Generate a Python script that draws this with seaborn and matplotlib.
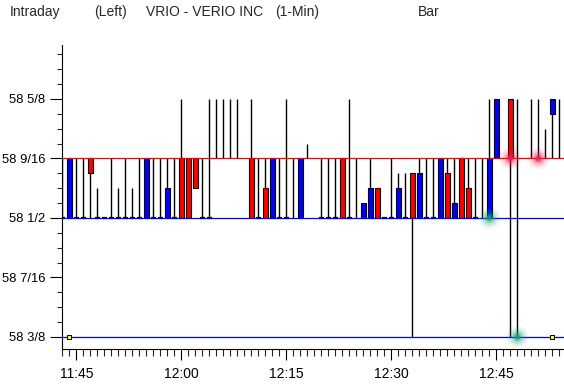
import matplotlib
matplotlib.use('Agg')
import matplotlib.pyplot as plt
from matplotlib.ticker import FixedLocator, MultipleLocator
import numpy as np
import pandas as pd
import seaborn as sns

# 1分钟K线, 价格单位 1/64 (价格 = 58 + v/64)
times = ['11:43', '11:44', '11:45', '11:46', '11:47', '11:48', '11:49', '11:50', '11:51', '11:52',
         '11:53', '11:54', '11:55', '11:56', '11:57', '11:58', '11:59', '12:00', '12:01', '12:02',
         '12:03', '12:04', '12:05', '12:06', '12:07', '12:08', '12:10', '12:11', '12:12', '12:13',
         '12:14', '12:15', '12:16', '12:17', '12:18', '12:20', '12:21', '12:22', '12:23', '12:24',
         '12:25', '12:26', '12:27', '12:28', '12:29', '12:30', '12:31', '12:32', '12:33', '12:34',
         '12:35', '12:36', '12:37', '12:38', '12:39', '12:40', '12:41', '12:42', '12:43', '12:44',
         '12:45', '12:47', '12:48', '12:50', '12:51', '12:52', '12:53', '12:54']
opens = [32, 32, 32, 32, 36, 32, 32, 32, 32, 32,
         32, 32, 32, 32, 32, 32, 32, 36, 36, 36,
         32, 32, 40, 40, 40, 40, 36, 32, 34, 32,
         32, 32, 36, 32, 37, 32, 32, 32, 36, 32,
         36, 32, 32, 34, 32, 32, 32, 32, 35, 32,
         32, 32, 32, 35, 32, 36, 34, 32, 36, 32,
         36, 40, 40, 40, 40, 38, 39, 40]
highs = [36, 36, 36, 36, 36, 34, 32, 36, 34, 36,
         34, 36, 36, 36, 36, 36, 36, 40, 36, 36,
         36, 40, 40, 40, 40, 40, 40, 36, 36, 36,
         36, 40, 36, 36, 37, 36, 36, 36, 36, 40,
         36, 33, 36, 34, 32, 36, 35, 35, 35, 36,
         36, 36, 36, 36, 36, 36, 36, 36, 36, 40,
         40, 40, 40, 40, 40, 38, 40, 40]
lows = [32, 32, 32, 32, 32, 32, 32, 32, 32, 32,
        32, 32, 32, 32, 32, 32, 32, 32, 32, 34,
        32, 32, 36, 36, 36, 36, 32, 32, 32, 32,
        32, 32, 32, 32, 36, 32, 32, 32, 32, 32,
        32, 32, 32, 32, 32, 32, 32, 32, 24, 32,
        32, 32, 32, 32, 32, 32, 32, 32, 32, 32,
        36, 24, 24, 36, 36, 36, 36, 36]
closes = [32, 36, 32, 32, 35, 32, 32, 32, 32, 32,
          32, 32, 36, 32, 32, 34, 32, 32, 32, 34,
          32, 32, 40, 40, 40, 40, 32, 32, 32, 36,
          32, 32, 36, 36, 37, 32, 32, 32, 32, 32,
          36, 33, 34, 32, 32, 32, 34, 32, 32, 35,
          32, 32, 36, 32, 33, 32, 32, 32, 36, 36,
          40, 36, 40, 40, 40, 38, 40, 40]

# 参考线 (9/16 红, 1/2 蓝, 3/8 蓝)
ref_levels = [36, 32, 24]
ref_colors = ['#ff0000', '#0000ff', '#0000ff']

# 发光的点
glow_times = ['12:44', '12:47', '12:51', '12:48']
glow_levels = [32, 36, 36, 24]
glow_kind = ['g', 'r', 'r', 'g']

# 黄色小标记
mark_times = ['11:44', '12:53']
mark_levels = [24, 24]

ytick_vals = [40, 36, 32, 28, 24]
ytick_labels = ['58 5/8', '58 9/16', '58 1/2', '58 7/16', '58 3/8']
xtick_labels = ['11:45', '12:00', '12:15', '12:30', '12:45']


def to_min(s):
    return int(s[:2]) * 60 + int(s[3:])


def to_price(v):
    return 58 + np.asarray(v) / 64


df = pd.DataFrame({'time': times, 'o': opens, 'h': highs, 'l': lows, 'c': closes})
df['x'] = df['time'].apply(to_min)
for col in ['o', 'h', 'l', 'c']:
    df[col] = to_price(df[col])

sns.set_style('white')
plt.rcParams['font.family'] = ['Liberation Sans', 'DejaVu Sans']
plt.rcParams['font.size'] = 10

fig = plt.figure(figsize=(5.64, 3.86), dpi=100)
ax = fig.add_axes([61.6 / 564, 37 / 386, 502.4 / 564, 304 / 386])

# 影线
ax.vlines(df['x'], df['l'], df['h'], color='black', lw=1.0, zorder=2)
# 实体
body = df[df['o'] != df['c']]
ax.bar(body['x'], body['c'] - body['o'], bottom=body['o'], width=0.65,
       color=np.where(body['c'] > body['o'], '#0000ff', '#ff0000'),
       edgecolor='black', lw=0.8, zorder=3)
# 平盘
flat = df[(df['o'] == df['c']) & (df['o'] == df['l'])]
ax.hlines(flat['o'] - 0.03 / 64, flat['x'] - 0.35, flat['x'] + 0.35, color='black', lw=1.6, zorder=3)

for lv, cl in zip(ref_levels, ref_colors):
    ax.axhline(to_price(lv), color=cl, lw=0.9, zorder=4)

# 发光点
gx = [to_min(t) for t in glow_times]
gy = to_price(glow_levels)
pal = {'g': '#16a070', 'r': '#f0204e'}
for s, a in [(260, 0.06), (170, 0.1), (100, 0.16), (50, 0.3), (18, 0.7)]:
    sns.scatterplot(x=gx, y=gy, hue=glow_kind, palette=pal, s=s, alpha=a,
                    edgecolor='none', legend=False, ax=ax, zorder=5)

ax.scatter([to_min(t) for t in mark_times], to_price(mark_levels), marker='s', s=10,
           facecolor='#ffff00', edgecolor='black', lw=0.7, zorder=6)

ax.set_xlim(to_min('11:43') - 0.1, to_min('11:43') + 71.67)
ax.set_ylim(to_price(23.19), to_price(43.63))

ax.yaxis.set_major_locator(FixedLocator(to_price(ytick_vals)))
ax.set_yticklabels(ytick_labels, fontsize=9.4)
ax.yaxis.set_minor_locator(MultipleLocator(1 / 64))
ax.xaxis.set_major_locator(FixedLocator([to_min(t) for t in xtick_labels]))
ax.set_xticklabels(xtick_labels)
ax.xaxis.set_minor_locator(MultipleLocator(1))

ax.tick_params(axis='y', which='major', length=8.6, width=0.8, pad=3.2, colors='black', left=True)
ax.tick_params(axis='y', which='minor', length=3.3, width=0.8, left=True)
ax.tick_params(axis='x', which='major', length=8, width=0.8, pad=5, colors='black', bottom=True)
ax.tick_params(axis='x', which='minor', length=5, width=0.8, bottom=True)

for sp in ['top', 'right']:
    ax.spines[sp].set_visible(False)
for sp in ['left', 'bottom']:
    ax.spines[sp].set_color('black')
    ax.spines[sp].set_linewidth(0.8)

ax.set_xlabel('')
ax.set_ylabel('')

ty = 1 - 12 / 386
fig.text(10 / 564, ty, 'Intraday', va='center', ha='left')
fig.text(94 / 564, ty, '(Left)', va='center', ha='left')
fig.text(146 / 564, ty, 'VRIO - VERIO INC', va='center', ha='left')
fig.text(275 / 564, ty, '(1-Min)', va='center', ha='left')
fig.text(418 / 564, ty, 'Bar', va='center', ha='left')

fig.savefig('out.png', dpi=100, facecolor='white')
